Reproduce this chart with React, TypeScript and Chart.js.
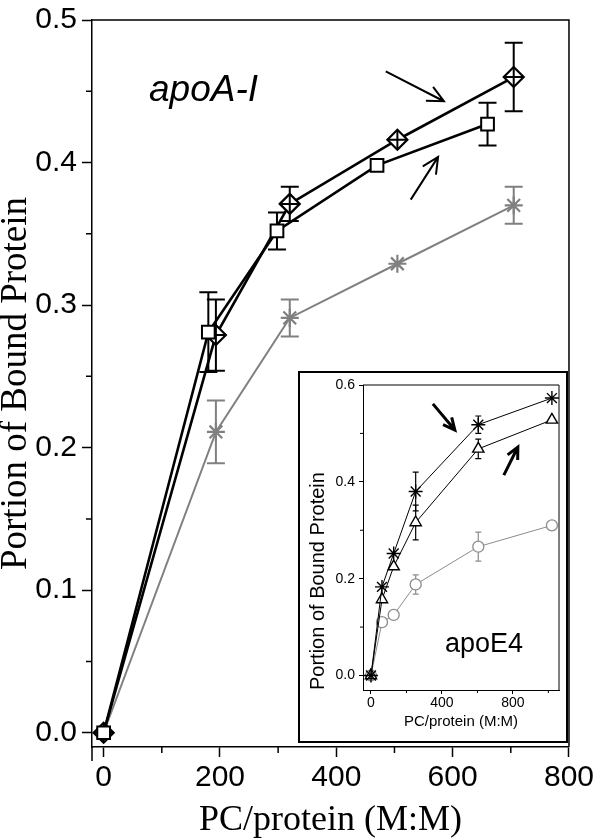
import React, { useEffect, useRef } from 'react';
import { Chart, registerables } from 'chart.js';

Chart.register(...registerables);

// ---------------- main chart data ----------------
const mainXTicks = [0, 200, 400, 600, 800];
const mainXMinor = [100, 300, 500, 700];
const mainYTicks = [0, 0.1, 0.2, 0.3, 0.4, 0.5];
const mainYMinor = [0.05, 0.15, 0.25, 0.35, 0.45];

const squareX = [0, 180, 298, 470, 660];
const squareY = [0, 0.281, 0.352, 0.398, 0.427];
const squareErr = [0, 0.028, 0.013, 0, 0.015];

const diamondX = [0, 193, 320, 505, 705];
const diamondY = [0, 0.279, 0.371, 0.416, 0.46];
const diamondErr = [0, 0.025, 0.012, 0, 0.024];

const grayX = [0, 193, 320, 505, 705];
const grayY = [0, 0.211, 0.291, 0.329, 0.37];
const grayErr = [0, 0.022, 0.013, 0, 0.013];

const mainArrowFrom = [[485, 0.464], [528, 0.374]];
const mainArrowTo = [[585, 0.443], [575, 0.404]];
const mainLabel = 'apoA-I';
const mainLabelAt = [78, 0.443];

// ---------------- inset chart data ----------------
const insetXTicks = [0, 400, 800];
const insetXMinor = [200, 600, 1000];
const insetYTicks = [0, 0.2, 0.4, 0.6];
const insetYMinor = [0.1, 0.3, 0.5];

const insetX = [0, 62, 128, 252, 605, 1020];
const starY = [0, 0.183, 0.252, 0.38, 0.518, 0.573];
const starErr = [0, 0, 0, 0.04, 0.018, 0];
const triY = [0, 0.157, 0.225, 0.316, 0.468, 0.528];
const triErr = [0, 0, 0, 0.036, 0.02, 0];
const circY = [0, 0.11, 0.125, 0.188, 0.266, 0.31];
const circErr = [0, 0, 0, 0.02, 0.03, 0];

const insetArrowFrom = [[349, 0.561], [749, 0.414]];
const insetArrowTo = [[473, 0.507], [828, 0.472]];
const insetLabel = 'apoE4';
const insetLabelAt = [417, 0.048];

const SANS = "'Liberation Sans', Arial, sans-serif";
const SERIF = "'Liberation Serif', 'Times New Roman', serif";

const pts = (xs: number[], ys: number[]) => xs.map((x, i) => ({ x, y: ys[i] }));

function drawErrorBars(chart: any, cap: number) {
  const { ctx } = chart;
  const xs = chart.scales.x;
  const ys = chart.scales.y;
  chart.data.datasets.forEach((ds: any) => {
    if (!ds.errorBars) return;
    ctx.save();
    ctx.strokeStyle = ds.borderColor;
    ctx.lineWidth = ds.errorWidth || 1;
    ds.data.forEach((p: any, i: number) => {
      const e = ds.errorBars[i];
      if (!e) return;
      const px = xs.getPixelForValue(p.x);
      const y1 = ys.getPixelForValue(p.y + e);
      const y2 = ys.getPixelForValue(p.y - e);
      ctx.beginPath();
      ctx.moveTo(px, y1);
      ctx.lineTo(px, y2);
      ctx.moveTo(px - cap, y1);
      ctx.lineTo(px + cap, y1);
      ctx.moveTo(px - cap, y2);
      ctx.lineTo(px + cap, y2);
      ctx.stroke();
    });
    ctx.restore();
  });
}

function drawArrow(ctx: any, x1: number, y1: number, x2: number, y2: number, head: number, lw: number) {
  const a = Math.atan2(y2 - y1, x2 - x1);
  ctx.save();
  ctx.strokeStyle = '#000';
  ctx.lineWidth = lw;
  ctx.lineCap = 'butt';
  ctx.lineJoin = 'miter';
  ctx.beginPath();
  ctx.moveTo(x1, y1);
  ctx.lineTo(x2, y2);
  ctx.moveTo(x2 - head * Math.cos(a - 0.45), y2 - head * Math.sin(a - 0.45));
  ctx.lineTo(x2, y2);
  ctx.lineTo(x2 - head * Math.cos(a + 0.45), y2 - head * Math.sin(a + 0.45));
  ctx.stroke();
  ctx.restore();
}

function makeDecor(id: string, o: any) {
  return {
    id,
    beforeDraw(chart: any) {
      if (o.background) {
        const { ctx, width, height } = chart;
        ctx.save();
        ctx.fillStyle = '#fff';
        ctx.fillRect(0, 0, width, height);
        ctx.restore();
      }
    },
    beforeDatasetsDraw(chart: any) {
      drawErrorBars(chart, o.cap);
    },
    afterDraw(chart: any) {
      const { ctx, chartArea: ca, width, height } = chart;
      const xs = chart.scales.x;
      const ys = chart.scales.y;
      ctx.save();
      ctx.strokeStyle = '#000';
      ctx.lineWidth = o.frameWidth;
      ctx.beginPath();
      ctx.moveTo(ca.left, ca.top);
      ctx.lineTo(ca.right, ca.top);
      ctx.lineTo(ca.right, ca.bottom);
      ctx.stroke();
      ctx.lineWidth = o.tickWidth;
      ctx.beginPath();
      o.minorX.forEach((v: number) => {
        const px = xs.getPixelForValue(v);
        ctx.moveTo(px, ca.bottom);
        ctx.lineTo(px, ca.bottom + o.minorLen);
      });
      o.minorY.forEach((v: number) => {
        const py = ys.getPixelForValue(v);
        ctx.moveTo(ca.left, py);
        ctx.lineTo(ca.left - o.minorLen, py);
      });
      if (o.axisExt) {
        ctx.moveTo(ca.left, ca.bottom);
        ctx.lineTo(ca.left, ca.bottom + o.axisExt);
      }
      ctx.stroke();
      o.arrowFrom.forEach((f: number[], i: number) => {
        const t = o.arrowTo[i];
        drawArrow(
          ctx,
          xs.getPixelForValue(f[0]), ys.getPixelForValue(f[1]),
          xs.getPixelForValue(t[0]), ys.getPixelForValue(t[1]),
          o.head, o.arrowWidth
        );
      });
      ctx.fillStyle = '#000';
      ctx.font = o.labelFont;
      ctx.textAlign = 'left';
      ctx.textBaseline = 'alphabetic';
      ctx.fillText(o.label, xs.getPixelForValue(o.labelAt[0]), ys.getPixelForValue(o.labelAt[1]));
      if (o.outerBorder) {
        ctx.lineWidth = o.outerBorder;
        ctx.strokeRect(o.outerBorder / 2, o.outerBorder / 2, width - o.outerBorder, height - o.outerBorder);
      }
      ctx.restore();
    },
  };
}

function fixedTicks(values: number[]) {
  return (axis: any) => {
    axis.ticks = values.map((v) => ({ value: v }));
  };
}

export default function App() {
  const mainRef = useRef<HTMLCanvasElement>(null);
  const insetRef = useRef<HTMLCanvasElement>(null);

  useEffect(() => {
    const black = '#000000';
    const gray = '#808080';

    const mainChart = new Chart(mainRef.current as HTMLCanvasElement, {
      type: 'line',
      data: {
        datasets: [
          {
            data: pts(squareX, squareY),
            borderColor: black,
            borderWidth: 2.6,
            pointStyle: 'rect',
            pointRadius: 9,
            pointBorderWidth: 2,
            pointBackgroundColor: '#fff',
            pointBorderColor: black,
            errorBars: squareErr,
            errorWidth: 2,
          } as any,
          {
            data: pts(diamondX, diamondY),
            showLine: false,
            borderColor: black,
            pointStyle: 'cross',
            pointRadius: 10,
            pointBorderWidth: 2,
            pointBorderColor: black,
          } as any,
          {
            data: pts(diamondX, diamondY),
            borderColor: black,
            borderWidth: 2.6,
            pointStyle: 'rectRot',
            pointRadius: 10,
            pointBorderWidth: 2.2,
            pointBackgroundColor: '#fff',
            pointBorderColor: black,
            errorBars: diamondErr,
            errorWidth: 2,
          } as any,
          {
            data: pts(grayX, grayY),
            borderColor: gray,
            borderWidth: 2,
            pointStyle: 'star',
            pointRadius: 9,
            pointBorderWidth: 2.2,
            pointBorderColor: gray,
            pointBackgroundColor: gray,
            errorBars: grayErr,
            errorWidth: 2,
          } as any,
        ],
      },
      options: {
        responsive: false,
        animation: false,
        events: [],
        devicePixelRatio: 1,
        layout: { padding: { top: 15, right: 26, left: 0, bottom: 0 } },
        elements: { line: { tension: 0 } },
        plugins: { legend: { display: false }, tooltip: { enabled: false } },
        scales: {
          x: {
            type: 'linear',
            min: -20,
            max: 800,
            afterBuildTicks: fixedTicks(mainXTicks),
            afterFit: (s: any) => { s.height = 92; },
            ticks: {
              autoSkip: false,
              maxRotation: 0,
              padding: 6,
              color: black,
              font: { family: SANS, size: 30, lineHeight: 1 },
              callback: (v: any) => String(v),
            },
            grid: { drawOnChartArea: false, tickLength: 10, tickWidth: 1.5, tickColor: black },
            border: { color: black, width: 1.5 },
            title: {
              display: true,
              text: 'PC/protein (M:M)',
              color: black,
              font: { family: SERIF, size: 36, lineHeight: 1 },
              padding: { top: 0, bottom: 0 },
            },
          },
          y: {
            type: 'linear',
            min: -0.01,
            max: 0.5,
            afterBuildTicks: fixedTicks(mainYTicks),
            afterFit: (s: any) => { s.width = 92; },
            ticks: {
              autoSkip: false,
              padding: 5,
              color: black,
              font: { family: SANS, size: 30, lineHeight: 1 },
              callback: (v: any) => Number(v).toFixed(1),
            },
            grid: { drawOnChartArea: false, tickLength: 10, tickWidth: 1.5, tickColor: black },
            border: { color: black, width: 1.5 },
            title: {
              display: true,
              text: 'Portion of Bound Protein',
              color: black,
              font: { family: SERIF, size: 37, lineHeight: 1 },
              padding: { top: -2, bottom: 0 },
            },
          },
        },
      } as any,
      plugins: [
        makeDecor('mainDecor', {
          cap: 9,
          frameWidth: 1.5,
          tickWidth: 1.5,
          minorX: mainXMinor,
          minorY: mainYMinor,
          minorLen: 6,
          axisExt: 14,
          arrowFrom: mainArrowFrom,
          arrowTo: mainArrowTo,
          head: 18,
          arrowWidth: 2,
          label: mainLabel,
          labelAt: mainLabelAt,
          labelFont: `italic 37px ${SANS}`,
        }),
      ],
    });

    const insetChart = new Chart(insetRef.current as HTMLCanvasElement, {
      type: 'line',
      data: {
        datasets: [
          {
            data: pts(insetX, starY),
            borderColor: black,
            borderWidth: 1,
            pointStyle: 'star',
            pointRadius: 7,
            pointBorderWidth: 1.4,
            pointBorderColor: black,
            errorBars: starErr,
            errorWidth: 1.2,
          } as any,
          {
            data: pts(insetX, triY),
            borderColor: black,
            borderWidth: 1,
            pointStyle: 'triangle',
            pointRadius: 6.5,
            pointBorderWidth: 1.4,
            pointBackgroundColor: '#fff',
            pointBorderColor: black,
            errorBars: triErr,
            errorWidth: 1.2,
          } as any,
          {
            data: pts(insetX, circY),
            borderColor: '#8c8c8c',
            borderWidth: 1,
            pointStyle: 'circle',
            pointRadius: 5.5,
            pointBorderWidth: 1.3,
            pointBackgroundColor: '#fff',
            pointBorderColor: '#8c8c8c',
            errorBars: circErr,
            errorWidth: 1.2,
          } as any,
        ],
      },
      options: {
        responsive: false,
        animation: false,
        events: [],
        devicePixelRatio: 1,
        layout: { padding: { top: 14, right: 9, left: 0, bottom: 0 } },
        elements: { line: { tension: 0 } },
        plugins: { legend: { display: false }, tooltip: { enabled: false } },
        scales: {
          x: {
            type: 'linear',
            min: -45,
            max: 1060,
            afterBuildTicks: fixedTicks(insetXTicks),
            afterFit: (s: any) => { s.height = 53; },
            ticks: {
              autoSkip: false,
              maxRotation: 0,
              padding: 2,
              color: black,
              font: { family: SANS, size: 14, lineHeight: 1 },
              callback: (v: any) => String(v),
            },
            grid: { drawOnChartArea: false, tickLength: 4, tickWidth: 1, tickColor: black },
            border: { color: black, width: 1 },
            title: {
              display: true,
              text: 'PC/protein (M:M)',
              color: black,
              font: { family: SANS, size: 15, lineHeight: 1 },
              padding: { top: 0, bottom: 14 },
            },
          },
          y: {
            type: 'linear',
            min: -0.03,
            max: 0.6,
            afterBuildTicks: fixedTicks(insetYTicks),
            afterFit: (s: any) => { s.width = 65; },
            ticks: {
              autoSkip: false,
              padding: 4,
              color: black,
              font: { family: SANS, size: 14, lineHeight: 1 },
              callback: (v: any) => Number(v).toFixed(1),
            },
            grid: { drawOnChartArea: false, tickLength: 4, tickWidth: 1, tickColor: black },
            border: { color: black, width: 1 },
            title: {
              display: true,
              text: 'Portion of Bound Protein',
              align: 'start',
              color: black,
              font: { family: SANS, size: 20, lineHeight: 1 },
              padding: { top: 10, bottom: 0 },
            },
          },
        },
      } as any,
      plugins: [
        makeDecor('insetDecor', {
          background: true,
          cap: 3,
          frameWidth: 1,
          tickWidth: 1,
          minorX: insetXMinor,
          minorY: insetYMinor,
          minorLen: 3,
          axisExt: 0,
          arrowFrom: insetArrowFrom,
          arrowTo: insetArrowTo,
          head: 13,
          arrowWidth: 3,
          label: insetLabel,
          labelAt: insetLabelAt,
          labelFont: `27px ${SANS}`,
          outerBorder: 2,
        }),
      ],
    });

    return () => {
      mainChart.destroy();
      insetChart.destroy();
    };
  }, []);

  return (
    <div style={{ position: 'absolute', left: 0, top: 0, width: 600, height: 839, background: '#fff' }}>
      <canvas ref={mainRef} width={600} height={839} style={{ position: 'absolute', left: 0, top: 0 }} />
      <canvas ref={insetRef} width={270} height={372} style={{ position: 'absolute', left: 298, top: 371 }} />
    </div>
  );
}
